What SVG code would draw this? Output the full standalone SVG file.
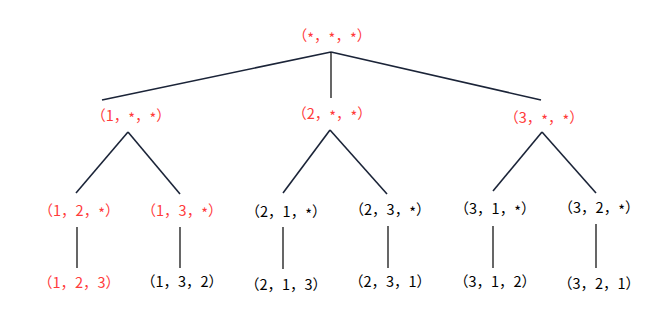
<svg xmlns="http://www.w3.org/2000/svg" width="655" height="323" viewBox="0 0 655 323">
<style>
text{font-family:"Noto Sans CJK SC","DejaVu Sans",sans-serif;font-size:14.5px;text-anchor:middle;fill:#000}
.r{fill:#ff3b3b}
.s{baseline-shift:-3px}
.e line{stroke:#1b2438;stroke-width:1.6}
.e line.v{stroke:#000;stroke-width:1.2}
</style>
<rect width="655" height="323" fill="#fff"/>
<g id="connectors" class="e">
<line x1="331" y1="52" x2="102" y2="100"/>
<line class="v" x1="331" y1="52" x2="331" y2="98"/>
<line x1="331" y1="52" x2="541" y2="100"/>
<line x1="128" y1="132" x2="76" y2="193"/>
<line x1="128" y1="132" x2="180" y2="194"/>
<line x1="330" y1="130" x2="283" y2="193"/>
<line x1="330" y1="130" x2="387" y2="194"/>
<line x1="542" y1="132" x2="493" y2="191"/>
<line x1="542" y1="132" x2="596" y2="193"/>
<line class="v" x1="77" y1="227" x2="77" y2="268"/>
<line class="v" x1="180" y1="227" x2="180" y2="268"/>
<line class="v" x1="283" y1="227" x2="283" y2="269"/>
<line class="v" x1="388" y1="226" x2="388" y2="268"/>
<line class="v" x1="493" y1="226" x2="493" y2="268"/>
<line class="v" x1="596" y1="224" x2="596" y2="268"/>
</g>
<g id="n0"><text class="r" x="332" y="41">（<tspan class="s">*</tspan>，<tspan class="s">*</tspan>，<tspan class="s">*</tspan>）</text></g>
<g id="n1"><text class="r" x="131" y="121">（1，<tspan class="s">*</tspan>，<tspan class="s">*</tspan>）</text></g>
<g id="n2"><text class="r" x="332" y="119">（2，<tspan class="s">*</tspan>，<tspan class="s">*</tspan>）</text></g>
<g id="n3"><text class="r" x="544" y="123">（3，<tspan class="s">*</tspan>，<tspan class="s">*</tspan>）</text></g>
<g id="n12"><text class="r" x="79" y="216">（1，2，<tspan class="s">*</tspan>）</text></g>
<g id="n13"><text class="r" x="182" y="216">（1，3，<tspan class="s">*</tspan>）</text></g>
<g id="n21"><text x="286" y="217">（2，1，<tspan class="s">*</tspan>）</text></g>
<g id="n23"><text x="390" y="215">（2，3，<tspan class="s">*</tspan>）</text></g>
<g id="n31"><text x="495" y="214">（3，1，<tspan class="s">*</tspan>）</text></g>
<g id="n32"><text x="599" y="213">（3，2，<tspan class="s">*</tspan>）</text></g>
<g id="n123"><text class="r" x="79" y="288">（1，2，3）</text></g>
<g id="n132"><text x="182" y="287">（1，3，2）</text></g>
<g id="n213"><text x="286" y="290">（2，1，3）</text></g>
<g id="n231"><text x="390" y="287">（2，3，1）</text></g>
<g id="n312"><text x="495" y="287">（3，1，2）</text></g>
<g id="n321"><text x="599" y="289">（3，2，1）</text></g>
</svg>
